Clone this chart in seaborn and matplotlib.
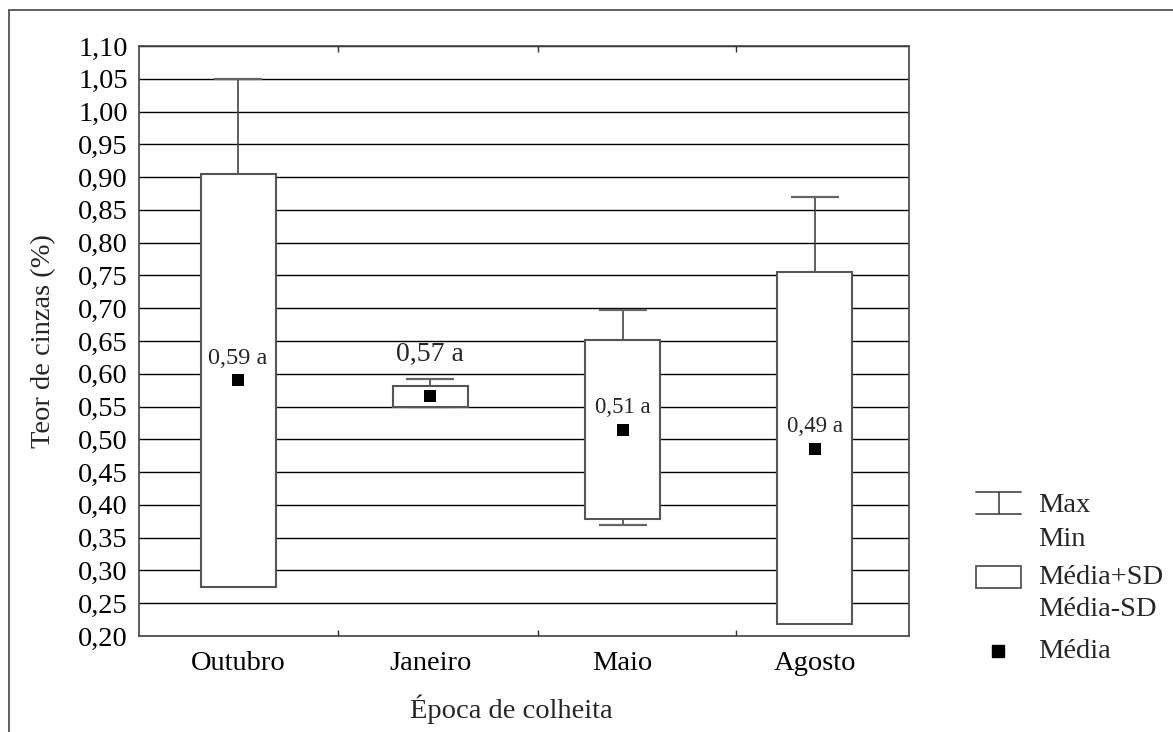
import matplotlib
matplotlib.use("Agg")
import matplotlib.pyplot as plt
import seaborn as sns
import numpy as np
import pandas as pd
from matplotlib.lines import Line2D
from matplotlib.patches import Rectangle
from matplotlib.ticker import FuncFormatter, FixedLocator

# dados
epocas = ["Outubro", "Janeiro", "Maio", "Agosto"]
media = [0.590, 0.566, 0.514, 0.486]
media_mais_sd = [0.905, 0.581, 0.652, 0.755]
media_menos_sd = [0.275, 0.550, 0.378, 0.218]
maximo = [1.050, 0.592, 0.698, 0.870]
minimo = [0.300, 0.550, 0.370, 0.250]
rotulos = ["0,59 a", "0,57 a", "0,51 a", "0,49 a"]
rotulo_offset = [0.034, 0.064, 0.035, 0.033]
rotulo_tam = [17.5, 20, 16.5, 16.5]

W, H = 1173, 732
FS = 20.5


def fx(px):
    return px / W


def fy(py):
    return 1 - py / H


sns.set_theme(style="white")
plt.rcParams["font.family"] = ["Liberation Serif", "DejaVu Serif"]

df = pd.DataFrame({"epoca": epocas, "media": media})

fig = plt.figure(figsize=(W / 100, H / 100), dpi=100)
ax = fig.add_axes([fx(139), fy(636), fx(909) - fx(139), fy(46) - fy(636)])

pos = np.arange(len(epocas))
sup = np.array(media_mais_sd)
inf = np.array(media_menos_sd)

# bigodes (atras das caixas)
ax.vlines(pos, media, maximo, color="#444444", lw=1.2, zorder=1)
ax.vlines(pos, minimo, media, color="#444444", lw=1.2, zorder=1)
ax.hlines(maximo, pos - 0.125, pos + 0.125, color="#666666", lw=1.6, zorder=1)
ax.hlines(minimo, pos - 0.125, pos + 0.125, color="#666666", lw=1.6, zorder=1)

# caixas media +- sd
ax.bar(pos, sup - inf, bottom=inf, width=0.39, color="white",
       edgecolor="#555555", linewidth=1.5, zorder=2)

sns.stripplot(data=df, x="epoca", y="media", jitter=False, marker="s",
              color="black", size=9, ax=ax, zorder=3)

for i, txt in enumerate(rotulos):
    ax.text(pos[i], media[i] + rotulo_offset[i], txt, ha="center",
            va="center", fontsize=rotulo_tam[i], zorder=4)

ax.set_xlim(-0.515, 3.49)
ax.set_ylim(0.20, 1.10)
ax.set_yticks(np.arange(0.20, 1.101, 0.05))
ax.yaxis.set_major_formatter(FuncFormatter(lambda v, p: f"{v:.2f}".replace(".", ",")))
ax.yaxis.grid(True, color="black", lw=1)
ax.set_axisbelow(True)
ax.tick_params(axis="y", length=0, labelsize=FS, pad=8, colors="black")
ax.tick_params(axis="x", which="major", length=0, labelsize=FS, pad=11,
               colors="black")
ax.xaxis.set_minor_locator(FixedLocator([0.52, 1.56, 2.59]))
ax.tick_params(axis="x", which="minor", direction="in", length=4,
               top=True, bottom=True, color="#333333")
for s in ax.spines.values():
    s.set_color("#444444")
    s.set_linewidth(1.2)

ax.set_xlabel("Época de colheita", fontsize=FS)
ax.set_ylabel("Teor de cinzas (%)", fontsize=FS)
ax.xaxis.set_label_coords((511 - 139) / 770, -(695 - 636) / 590)
ax.yaxis.set_label_coords(-(139 - 56) / 770, 0.5)

# moldura externa
fig.add_artist(Line2D([fx(9), fx(9)], [fy(10), 0], color="#444444", lw=1.2))
fig.add_artist(Line2D([fx(9), 1], [fy(10), fy(10)], color="#444444", lw=1.2))

# legenda manual
fig.add_artist(Line2D([fx(976), fx(1021)], [fy(492), fy(492)], color="#555555", lw=1.3))
fig.add_artist(Line2D([fx(976), fx(1021)], [fy(514), fy(514)], color="#555555", lw=1.3))
fig.add_artist(Line2D([fx(998.5), fx(998.5)], [fy(492), fy(514)], color="#444444", lw=1.2))
fig.add_artist(Rectangle((fx(976), fy(588)), fx(1021) - fx(976), fy(566) - fy(588),
                         facecolor="white", edgecolor="#555555", lw=1.3))
fig.add_artist(Line2D([fx(998)], [fy(651)], marker="s", color="black",
                      markersize=9, linestyle="none"))
lx = fx(1038)
fig.text(lx, fy(505), "Max", fontsize=FS, va="center")
fig.text(lx, fy(539), "Min", fontsize=FS, va="center")
fig.text(lx, fy(578), "Média+SD", fontsize=FS, va="center")
fig.text(lx, fy(610), "Média-SD", fontsize=FS, va="center")
fig.text(lx, fy(652), "Média", fontsize=FS, va="center")

fig.savefig("out.png", dpi=100)
